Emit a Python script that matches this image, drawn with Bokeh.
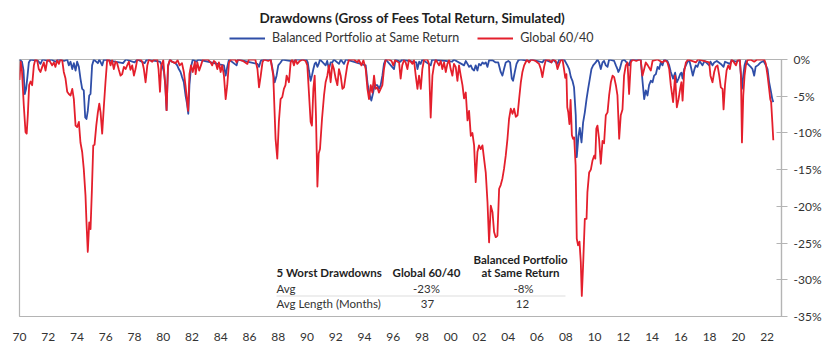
from bokeh.plotting import figure
from bokeh.layouts import column
from bokeh.models import (Range1d, Label, Legend, LegendItem, FixedTicker,
                          PrintfTickFormatter, BoxAnnotation, ColumnDataSource)
from bokeh.embed import file_html
from bokeh.resources import INLINE

# ---------------- data (drawdown %) ----------------
global_6040 = [
    (1970.00, -2.8), (1970.08, -0.3), (1970.17, -1.5), (1970.30, -6.3), (1970.42, -9.9),
    (1970.50, -10.1), (1970.58, -7.5), (1970.67, -3.5), (1970.77, -3.0), (1970.88, -3.5),
    (1971.00, -0.8), (1971.10, 0.0), (1971.23, -0.1), (1971.34, -1.3), (1971.46, -1.7),
    (1971.58, -1.0), (1971.69, -0.4), (1971.81, -1.5), (1971.93, -0.1), (1972.04, 0.0),
    (1972.27, -0.8), (1972.39, -0.4), (1972.50, -1.0), (1972.62, -0.1), (1972.74, -0.6),
    (1972.85, 0.0), (1972.97, -0.1), (1973.08, -1.7), (1973.20, -2.6), (1973.32, -4.4),
    (1973.43, -4.7), (1973.55, -4.9), (1973.67, -4.0), (1973.78, -5.4), (1973.90, -9.0),
    (1974.01, -9.2), (1974.13, -8.5), (1974.24, -11.3), (1974.36, -12.6), (1974.47, -14.9),
    (1974.59, -18.5), (1974.66, -22.2), (1974.75, -26.2), (1974.85, -22.2), (1974.94, -23.1),
    (1975.03, -18.1), (1975.13, -11.7), (1975.22, -11.6), (1975.34, -9.0), (1975.45, -7.2),
    (1975.55, -6.0), (1975.64, -7.2), (1975.75, -10.1), (1975.87, -6.3), (1975.98, -3.1),
    (1976.10, 0.0), (1976.22, 0.0), (1976.33, -0.8), (1976.44, -0.1), (1976.56, -1.3),
    (1976.68, -0.3), (1976.79, -0.5), (1976.91, -1.4), (1977.03, -2.2), (1977.14, -2.0),
    (1977.26, -1.0), (1977.38, -1.3), (1977.49, -0.8), (1977.61, -0.3), (1977.72, -1.4),
    (1977.84, -0.8), (1977.96, -2.2), (1978.07, -1.3), (1978.19, 0.0), (1978.42, 0.0),
    (1978.54, -0.3), (1978.65, -1.3), (1978.77, -3.1), (1978.89, -0.8), (1979.00, 0.0),
    (1979.23, -0.3), (1979.35, 0.0), (1979.58, 0.0), (1979.67, -1.3), (1979.77, -4.4),
    (1979.86, -0.8), (1980.00, -0.1), (1980.14, -3.5), (1980.23, -6.9), (1980.33, -0.8),
    (1980.47, 0.0), (1980.60, -0.3), (1980.84, -0.5), (1981.00, -0.1), (1981.14, -0.8),
    (1981.30, -0.5), (1981.43, -1.7), (1981.55, -3.6), (1981.65, -5.5), (1981.73, -7.0),
    (1981.82, -2.0), (1981.93, -0.8), (1982.05, -1.7), (1982.20, -0.3), (1982.25, -2.0),
    (1982.37, -0.4), (1982.50, -1.5), (1982.62, -0.8), (1982.75, 0.0), (1983.10, 0.0),
    (1983.29, -0.4), (1983.40, -0.8), (1983.52, -0.2), (1983.64, -0.4), (1983.76, -1.3),
    (1983.87, -0.4), (1983.99, -1.7), (1984.10, -0.8), (1984.22, -2.2), (1984.34, -5.4),
    (1984.45, -3.5), (1984.57, -0.4), (1984.70, 0.0), (1985.00, 0.0), (1985.10, -0.4),
    (1985.20, 0.0), (1985.55, -0.2), (1985.85, -0.6), (1985.95, 0.0), (1986.40, 0.0),
    (1986.55, -1.3), (1986.66, -3.8), (1986.78, -2.2), (1986.90, -0.4), (1987.00, 0.0),
    (1987.30, -0.2), (1987.47, 0.0), (1987.65, -2.2), (1987.81, -10.8), (1987.93, -13.5),
    (1988.04, -8.5), (1988.16, -5.4), (1988.28, -5.1), (1988.39, -4.0), (1988.50, -3.5),
    (1988.58, -2.2), (1988.74, -3.1), (1988.86, -0.4), (1988.97, 0.0), (1989.09, -0.8),
    (1989.20, 0.0), (1989.32, -0.6), (1989.50, -0.2), (1989.70, 0.0), (1989.90, -0.2),
    (1990.02, -0.8), (1990.13, -4.5), (1990.25, -8.5), (1990.34, -9.0), (1990.44, -4.0),
    (1990.53, -2.2), (1990.62, -7.6), (1990.72, -17.3), (1990.81, -12.8), (1990.90, -12.2),
    (1991.04, -8.1), (1991.18, -4.9), (1991.29, -3.1), (1991.41, -2.2), (1991.52, -0.8),
    (1991.64, -3.1), (1991.76, -0.6), (1991.87, -1.3), (1991.99, -2.6), (1992.11, -3.5),
    (1992.22, -1.3), (1992.34, -2.2), (1992.46, -4.0), (1992.57, -3.8), (1992.69, -2.2),
    (1992.80, -0.8), (1992.92, 0.0), (1993.27, 0.0), (1993.50, -0.4), (1993.60, 0.0),
    (1993.78, -0.8), (1993.92, -0.1), (1994.08, -1.3), (1994.20, -4.0), (1994.31, -5.4),
    (1994.43, -3.5), (1994.54, -4.5), (1994.66, -2.2), (1994.77, -4.0), (1994.89, -3.8),
    (1995.00, -4.5), (1995.12, -4.0), (1995.24, -3.5), (1995.35, -1.3), (1995.47, 0.0),
    (1995.70, 0.0), (1995.88, -0.2), (1996.00, -0.8), (1996.12, -0.1), (1996.30, -0.3),
    (1996.40, -0.4), (1996.51, -2.6), (1996.62, -0.8), (1996.74, -0.1), (1996.86, -0.4),
    (1996.98, -1.3), (1997.09, 0.0), (1997.33, -0.6), (1997.44, -0.1), (1997.56, -2.2),
    (1997.68, -4.0), (1997.79, -2.2), (1997.91, -4.0), (1998.02, -1.3), (1998.14, 0.0),
    (1998.37, 0.0), (1998.48, -0.6), (1998.60, -7.9), (1998.72, -2.2), (1998.83, -0.8),
    (1998.95, 0.0), (1999.18, -0.8), (1999.30, -0.2), (1999.41, -1.3), (1999.53, -0.4),
    (1999.65, -1.7), (1999.76, -0.6), (1999.88, -0.1), (1999.99, -1.3), (2000.11, -2.2),
    (2000.22, -0.6), (2000.34, -1.0), (2000.46, -2.9), (2000.57, -0.8), (2000.69, -2.2),
    (2000.81, -3.5), (2000.92, -5.3), (2001.04, -4.5), (2001.16, -8.3), (2001.27, -7.0),
    (2001.39, -10.4), (2001.50, -10.0), (2001.62, -11.7), (2001.73, -16.7), (2001.85, -12.6),
    (2001.96, -11.7), (2002.08, -12.2), (2002.20, -11.7), (2002.31, -13.5), (2002.43, -15.4),
    (2002.55, -19.4), (2002.66, -24.9), (2002.78, -19.9), (2002.90, -20.8), (2003.01, -23.5),
    (2003.12, -24.2), (2003.24, -24.0), (2003.36, -17.6), (2003.47, -17.1), (2003.59, -16.2),
    (2003.70, -14.9), (2003.82, -13.1), (2003.94, -10.8), (2004.05, -8.1), (2004.17, -6.7),
    (2004.29, -7.4), (2004.40, -6.7), (2004.52, -7.8), (2004.64, -7.6), (2004.75, -5.4),
    (2004.87, -3.1), (2004.98, -1.7), (2005.10, -0.8), (2005.30, 0.0), (2005.44, -0.4),
    (2005.60, 0.0), (2005.90, -0.2), (2006.14, -0.6), (2006.26, -1.3), (2006.37, -2.4),
    (2006.49, -1.0), (2006.60, -0.1), (2006.80, 0.0), (2007.00, -0.4), (2007.10, 0.0),
    (2007.30, -0.2), (2007.42, -1.3), (2007.54, -0.6), (2007.65, -0.1), (2007.77, 0.0),
    (2007.88, -1.4), (2007.96, -2.5), (2008.04, -2.0), (2008.10, -6.5), (2008.17, -7.2),
    (2008.25, -8.8), (2008.33, -5.5), (2008.42, -10.3), (2008.50, -10.8), (2008.58, -10.6),
    (2008.68, -14.4), (2008.76, -24.4), (2008.85, -25.3), (2008.95, -24.8), (2009.04, -27.6),
    (2009.11, -32.2), (2009.20, -28.1), (2009.32, -21.7), (2009.44, -21.7), (2009.50, -18.1),
    (2009.62, -15.4), (2009.74, -15.0), (2009.85, -13.8), (2009.97, -13.1), (2010.05, -13.5),
    (2010.12, -9.4), (2010.20, -9.0), (2010.31, -10.8), (2010.43, -14.2), (2010.55, -11.1),
    (2010.66, -11.4), (2010.78, -7.6), (2010.90, -7.2), (2011.01, -4.9), (2011.13, -3.1),
    (2011.25, -2.2), (2011.36, -2.4), (2011.48, -3.5), (2011.59, -4.9), (2011.71, -10.8),
    (2011.82, -7.6), (2011.94, -6.8), (2012.05, -2.2), (2012.17, -0.8), (2012.29, -0.4),
    (2012.40, -4.7), (2012.52, -0.4), (2012.64, 0.0), (2012.90, -0.2), (2013.10, 0.0),
    (2013.21, -0.1), (2013.33, -2.2), (2013.45, -1.3), (2013.56, -0.4), (2013.70, -0.8),
    (2013.91, -1.5), (2014.03, -0.2), (2014.38, 0.0), (2014.72, -0.4), (2014.90, -0.1),
    (2015.07, -0.4), (2015.19, -1.3), (2015.30, -3.5), (2015.46, -5.8), (2015.60, -2.2),
    (2015.72, -6.5), (2015.84, -5.4), (2015.95, -4.0), (2016.04, -3.1), (2016.12, -5.6),
    (2016.23, -1.7), (2016.35, -0.4), (2016.50, 0.0), (2017.04, -0.4), (2017.20, 0.0),
    (2017.97, -0.4), (2018.06, -2.2), (2018.20, -3.1), (2018.32, -1.7), (2018.43, -1.0),
    (2018.55, -0.8), (2018.67, -2.2), (2018.78, -3.8), (2018.90, -4.0), (2018.97, -6.8),
    (2019.07, -3.5), (2019.18, -1.5), (2019.30, -0.8), (2019.41, -1.3), (2019.53, 0.0),
    (2019.70, -0.4), (2019.83, -0.8), (2019.95, -0.1), (2020.10, 0.0), (2020.18, -2.2),
    (2020.25, -11.3), (2020.34, -4.9), (2020.43, -2.2), (2020.52, -0.8), (2020.63, -0.1),
    (2020.85, 0.0), (2021.10, -0.3), (2021.30, 0.0), (2021.80, 0.0), (2021.91, -0.6),
    (2022.03, -2.2), (2022.14, -4.0), (2022.22, -5.4), (2022.28, -5.8), (2022.36, -8.5),
    (2022.43, -11.0),
]

balanced_same_return = [
    (1970.00, 0.0), (1970.17, -0.3), (1970.28, -1.5), (1970.37, -4.7), (1970.46, -4.0),
    (1970.56, -2.2), (1970.65, -0.4), (1970.77, 0.0), (1971.30, -0.2), (1971.46, -0.6),
    (1971.60, 0.0), (1972.00, -0.2), (1972.20, 0.0), (1972.50, -0.3), (1972.70, 0.0),
    (1973.10, -0.2), (1973.32, 0.0), (1973.43, -0.8), (1973.55, -0.3), (1973.67, -1.3),
    (1973.78, -0.5), (1973.90, -1.5), (1974.01, -0.3), (1974.13, -1.0), (1974.24, -2.6),
    (1974.36, -4.0), (1974.47, -4.2), (1974.57, -7.9), (1974.66, -8.1), (1974.75, -7.0),
    (1974.85, -4.9), (1974.94, -4.7), (1975.05, -0.8), (1975.17, 0.0), (1975.45, -0.5),
    (1975.55, 0.0), (1975.75, -0.8), (1975.87, 0.0), (1977.20, -0.5), (1977.40, 0.0),
    (1978.00, -0.4), (1978.20, 0.0), (1978.70, -0.5), (1978.85, 0.0), (1979.77, -0.3),
    (1979.95, -1.0), (1980.05, -1.7), (1980.14, -3.5), (1980.23, -6.9), (1980.33, -1.0),
    (1980.47, 0.0), (1980.60, -0.3), (1980.84, -0.5), (1980.97, -0.8), (1981.08, -1.3),
    (1981.20, -1.7), (1981.31, -2.4), (1981.43, -3.1), (1981.55, -4.9), (1981.65, -6.0),
    (1981.74, -7.4), (1981.82, -3.5), (1981.93, -1.0), (1982.05, 0.0), (1982.30, -0.3),
    (1982.45, 0.0), (1984.22, -0.8), (1984.34, -2.2), (1984.45, -1.0), (1984.57, 0.0),
    (1985.10, -0.8), (1985.20, 0.0), (1986.55, -0.6), (1986.66, -1.0), (1986.78, -0.2),
    (1986.90, 0.0), (1987.47, 0.0), (1987.60, -1.3), (1987.75, -3.1), (1987.88, -2.2),
    (1988.00, -0.8), (1988.16, -0.4), (1988.30, 0.0), (1989.10, -0.3), (1989.20, 0.0),
    (1989.95, 0.0), (1990.05, -0.4), (1990.13, -1.5), (1990.25, -2.9), (1990.34, -2.2),
    (1990.44, -1.3), (1990.53, -0.6), (1990.62, -0.4), (1990.72, -1.0), (1990.81, -0.6),
    (1990.90, 0.0), (1991.29, -0.8), (1991.40, -0.2), (1991.52, -1.3), (1991.64, -0.4),
    (1991.76, -0.4), (1991.87, 0.0), (1992.22, -0.6), (1992.35, 0.0), (1992.57, -0.6),
    (1992.70, 0.0), (1994.08, -0.8), (1994.20, -3.1), (1994.31, -4.5), (1994.47, -5.6),
    (1994.60, -4.5), (1994.70, -3.5), (1994.89, -3.5), (1995.00, -4.0), (1995.12, -3.5),
    (1995.24, -2.2), (1995.35, -0.6), (1995.47, 0.0), (1996.05, -1.3), (1996.15, 0.0),
    (1996.50, -0.3), (1996.60, 0.0), (1997.60, -0.4), (1997.68, -1.3), (1997.80, -0.3),
    (1997.90, -0.6), (1998.02, 0.0), (1998.60, -0.8), (1998.70, 0.0), (2000.10, -0.3),
    (2000.20, 0.0), (2000.92, -0.8), (2001.04, -0.2), (2001.16, -0.6), (2001.27, -1.0),
    (2001.39, -0.8), (2001.50, -1.3), (2001.62, -1.5), (2001.73, -0.8), (2001.85, -1.5),
    (2001.96, -0.6), (2002.08, -0.8), (2002.20, -0.4), (2002.31, -0.6), (2002.43, -0.4),
    (2002.55, -1.0), (2002.66, -0.1), (2002.90, -0.1), (2003.12, -0.4), (2003.30, -0.4),
    (2003.47, -1.7), (2003.59, -2.2), (2003.70, -1.3), (2003.82, -0.4), (2004.00, -0.2),
    (2004.12, -0.4), (2004.24, -2.6), (2004.33, -2.9), (2004.45, -1.7), (2004.57, -0.6),
    (2004.70, -0.1), (2004.90, 0.0), (2005.44, -0.2), (2005.60, 0.0), (2006.37, -0.4),
    (2006.50, 0.0), (2007.00, -0.4), (2007.10, 0.0), (2007.42, -0.6), (2007.54, 0.0),
    (2007.88, 0.0), (2008.11, -0.8), (2008.23, -1.3), (2008.35, -2.4), (2008.46, -2.9),
    (2008.57, -3.8), (2008.69, -7.6), (2008.76, -13.3), (2008.88, -10.4), (2008.97, -9.3),
    (2009.09, -11.3), (2009.20, -8.6), (2009.32, -7.2), (2009.44, -5.4), (2009.55, -4.0),
    (2009.67, -2.6), (2009.78, -1.3), (2009.90, -0.8), (2010.08, -0.4), (2010.20, 0.0),
    (2010.31, -0.4), (2010.43, -1.3), (2010.55, -0.4), (2010.66, -0.2), (2010.78, -0.8),
    (2010.90, -1.0), (2011.01, 0.0), (2011.36, -0.2), (2011.48, -0.8), (2011.59, -1.3),
    (2011.65, -1.7), (2011.75, -1.3), (2011.90, -0.2), (2012.05, 0.0), (2012.40, -0.8),
    (2012.52, 0.0), (2013.21, 0.0), (2013.33, -2.9), (2013.45, -5.4), (2013.56, -4.2),
    (2013.68, -4.9), (2013.79, -3.5), (2013.91, -2.9), (2014.03, -3.1), (2014.14, -2.2),
    (2014.26, -2.0), (2014.38, -1.0), (2014.49, -1.3), (2014.60, -0.4), (2014.72, -0.8),
    (2014.84, 0.0), (2015.07, -0.2), (2015.19, -0.8), (2015.30, -1.7), (2015.46, -2.6),
    (2015.60, -1.8), (2015.72, -3.1), (2015.84, -2.6), (2015.95, -2.0), (2016.04, -1.8),
    (2016.12, -2.6), (2016.23, -1.3), (2016.35, -0.8), (2016.47, -0.3), (2016.60, -0.2),
    (2016.72, -1.2), (2016.83, -2.2), (2016.95, -1.3), (2017.04, -0.8), (2017.15, -1.0),
    (2017.30, -0.2), (2017.50, -0.8), (2017.65, -0.2), (2017.97, -0.8), (2018.06, -0.3),
    (2018.20, -0.8), (2018.32, -0.4), (2018.50, -0.2), (2018.78, -0.6), (2018.97, -1.0),
    (2019.07, -0.3), (2019.41, -0.6), (2019.53, -0.1), (2019.83, -0.3), (2020.10, -0.1),
    (2020.18, -2.2), (2020.25, -4.0), (2020.34, -2.2), (2020.43, -0.8), (2020.52, -0.2),
    (2020.65, -0.6), (2020.86, -1.0), (2020.98, -1.3), (2021.10, -2.2), (2021.20, -1.0),
    (2021.35, -0.8), (2021.55, -0.4), (2021.75, -0.2), (2021.91, -0.8), (2022.03, -1.3),
    (2022.14, -3.1), (2022.26, -4.3), (2022.36, -5.4), (2022.43, -5.8),
]

series_names = ["Balanced Portfolio at Same Return", "Global 60/40"]
x_ticks = list(range(1970, 2023, 2))
x_tick_labels = ["70", "72", "74", "76", "78", "80", "82", "84", "86", "88", "90", "92", "94",
                 "96", "98", "00", "02", "04", "06", "08", "10", "12", "14", "16", "18", "20", "22"]
y_ticks = [0, -5, -10, -15, -20, -25, -30, -35]

table_header = ["5 Worst Drawdowns", "Global 60/40", "Balanced Portfolio", "at Same Return"]
table_rows = ["Avg", "Avg Length (Months)"]
table_global = ["-23%", "37"]
table_balanced = ["-8%", "12"]

title_text = "Drawdowns (Gross of Fees Total Return, Simulated)"

# ---------------- styling ----------------
FONT = "Lato"
BLUE = "#2f4ea8"
RED = "#e41f2c"
GRID = "#b4b4b4"
TXT = "#333333"
DARK = "#1e1e1e"
LW = 1.8

HEADER_H = 50
FRAME_L, FRAME_R = 19, 781   # frame edges in page pixels (header frame aligns with main frame)

# ---------------- header (title + legend) ----------------
head = figure(width=840, height=HEADER_H, x_range=Range1d(FRAME_L, FRAME_R),
              y_range=Range1d(HEADER_H, 0),
              output_backend="svg", toolbar_location=None, x_axis_type=None, y_axis_type=None,
              min_border=0, min_border_left=FRAME_L, min_border_right=840 - FRAME_R,
              min_border_top=0, min_border_bottom=0)
head.outline_line_color = None
head.xgrid.visible = False
head.ygrid.visible = False
head.background_fill_color = "white"
head.border_fill_color = "white"

head.add_layout(Label(x=412, y=17, text=title_text, text_font=FONT, text_font_style="bold",
                      text_font_size="13.5px", text_align="center", text_baseline="middle",
                      text_color=DARK))

# legend proxies: same style as the chart lines, holding no visible point
nan_src = ColumnDataSource(dict(x=[float("nan")], y=[float("nan")]))
lg_b = head.line("x", "y", source=nan_src, line_color=BLUE, line_width=LW)
lg_g = head.line("x", "y", source=nan_src, line_color=RED, line_width=LW)
legend = Legend(items=[LegendItem(label=series_names[0], renderers=[lg_b]),
                       LegendItem(label=series_names[1], renderers=[lg_g])],
                location=(229 - FRAME_L, HEADER_H - 45), orientation="horizontal",
                glyph_width=36, glyph_height=14, label_height=14, label_standoff=7,
                spacing=18, padding=0, margin=0, border_line_color=None,
                background_fill_alpha=0, label_text_font=FONT,
                label_text_font_size="12.5px", label_text_color=TXT)
head.add_layout(legend)

# ---------------- main chart ----------------
p = figure(width=840, height=355 - HEADER_H, x_range=Range1d(1970, 2023), y_range=Range1d(-35, 0),
           output_backend="svg", toolbar_location=None, y_axis_location="right",
           min_border_left=FRAME_L, min_border_right=840 - FRAME_R,
           min_border_top=59 - HEADER_H, min_border_bottom=39)
p.background_fill_color = "white"
p.border_fill_color = "white"
p.outline_line_color = GRID
p.outline_line_width = 1.2
p.xgrid.visible = False
p.ygrid.visible = False

src_b = ColumnDataSource(dict(x=[t for t, _ in balanced_same_return],
                              y=[v for _, v in balanced_same_return]))
src_g = ColumnDataSource(dict(x=[t for t, _ in global_6040],
                              y=[v for _, v in global_6040]))
p.line("x", "y", source=src_b, line_color=BLUE, line_width=LW, line_join="round")
p.line("x", "y", source=src_g, line_color=RED, line_width=LW, line_join="round")

ya = p.yaxis[0]
ya.ticker = FixedTicker(ticks=y_ticks)
ya.formatter = PrintfTickFormatter(format="%d%%")
ya.axis_line_color = GRID
ya.axis_line_width = 1.2
ya.major_tick_line_color = GRID
ya.major_tick_in = 5
ya.major_tick_out = 6
ya.minor_tick_line_color = None
ya.major_label_standoff = 6
ya.major_label_text_font = FONT
ya.major_label_text_font_size = "12px"
ya.major_label_text_color = TXT

xa = p.xaxis[0]
xa.ticker = FixedTicker(ticks=x_ticks)
xa.major_label_overrides = {t: lab for t, lab in zip(x_ticks, x_tick_labels)}
xa.axis_line_color = None
xa.major_tick_line_color = None
xa.minor_tick_line_color = None
xa.major_tick_out = 0
xa.major_tick_in = 0
xa.major_label_standoff = 16
xa.major_label_text_font = FONT
xa.major_label_text_font_size = "12px"
xa.major_label_text_color = TXT

# table: positions given in page pixels, converted to frame-relative screen units
FB = 316
def sx(x):
    return x - FRAME_L
def sy(y):
    return FB - y

def lab(text, x, y, align="left", bold=False, size="11.5px", color=TXT):
    p.add_layout(Label(x=sx(x), y=sy(y), x_units="screen", y_units="screen", text=text,
                       text_font=FONT, text_font_style="bold" if bold else "normal",
                       text_font_size=size, text_align=align, text_baseline="middle",
                       text_color=color))

lab(table_header[0], 276, 272, bold=True, color=DARK)
lab(table_header[1], 426, 272, align="center", bold=True, color=DARK)
lab(table_header[2], 520, 259, align="center", bold=True, color=DARK)
lab(table_header[3], 520, 272, align="center", bold=True, color=DARK)
lab(table_rows[0], 276, 288)
lab(table_rows[1], 276, 303)
lab(table_global[0], 426, 288, align="center")
lab(table_global[1], 427, 303, align="center")
lab(table_balanced[0], 523, 288, align="center")
lab(table_balanced[1], 522, 303, align="center")

p.add_layout(BoxAnnotation(left=sx(276), right=sx(565), bottom=sy(296), top=sy(295),
                           left_units="screen", right_units="screen",
                           bottom_units="screen", top_units="screen",
                           fill_color="#dddddd", fill_alpha=1.0, line_color=None))

layout = column(head, p, spacing=0)
open("out.html", "w").write(file_html(layout, INLINE))
